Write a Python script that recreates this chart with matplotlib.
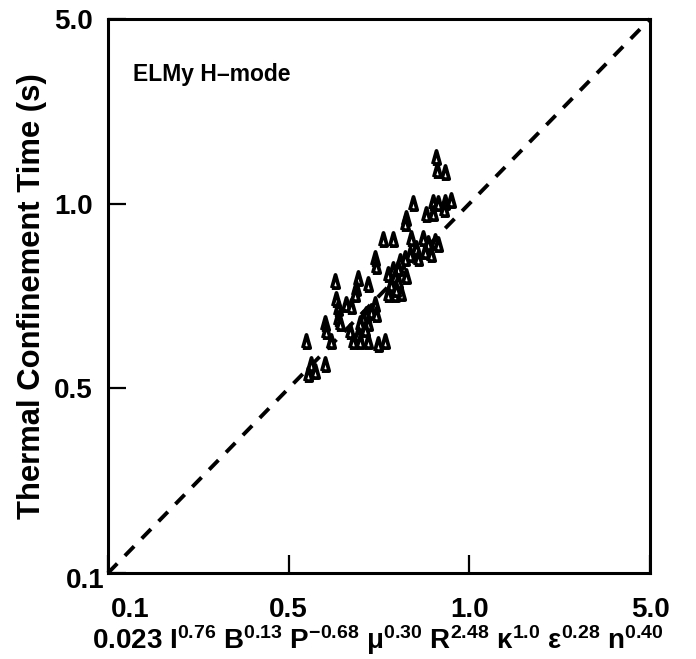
import numpy as np
import matplotlib
matplotlib.use("Agg")
import matplotlib.pyplot as plt
from matplotlib.transforms import ScaledTranslation

# ---------------- data ----------------
tick_vals = [0.1, 0.5, 1.0, 5.0]
tick_labels = ["0.1", "0.5", "1.0", "5.0"]

predicted = [0.881, 0.912, 0.884, 0.871, 0.887, 0.912, 0.933, 0.908, 0.871, 0.847,
             0.806, 0.785, 0.782, 0.718, 0.746, 0.800, 0.838, 0.854, 0.877, 0.887,
             0.816, 0.844, 0.864, 0.822, 0.797, 0.782, 0.767, 0.696, 0.699, 0.746,
             0.761, 0.732, 0.752, 0.785, 0.761, 0.741, 0.732, 0.752, 0.770, 0.755,
             0.597, 0.652, 0.678, 0.647, 0.645, 0.599, 0.604, 0.623, 0.635, 0.604,
             0.609, 0.696, 0.686, 0.673, 0.665, 0.657, 0.678, 0.699, 0.670, 0.652,
             0.632, 0.640, 0.657, 0.678, 0.704, 0.724, 0.574, 0.577, 0.588, 0.534,
             0.544, 0.553, 0.574, 0.538]
measured = [1.505, 1.321, 1.344, 1.017, 1.009, 1.017, 1.035, 0.981, 0.966, 0.963,
            1.009, 0.949, 0.931, 0.876, 0.876, 0.880, 0.880, 0.863, 0.870, 0.860,
            0.847, 0.838, 0.828, 0.816, 0.828, 0.816, 0.807, 0.816, 0.792, 0.783,
            0.786, 0.768, 0.763, 0.763, 0.748, 0.740, 0.712, 0.712, 0.715, 0.726,
            0.748, 0.757, 0.740, 0.729, 0.712, 0.699, 0.676, 0.686, 0.681, 0.651,
            0.639, 0.686, 0.668, 0.661, 0.651, 0.639, 0.639, 0.661, 0.625, 0.613,
            0.620, 0.597, 0.597, 0.597, 0.590, 0.597, 0.639, 0.620, 0.597, 0.597,
            0.547, 0.533, 0.547, 0.527]
unity_line = [0.1, 5.0]

title_text = "ELMy H\u2013mode"
ylabel_text = "Thermal Confinement Time (s)"
xlabel_text = (r"0.023 I$^{0.76}$ B$^{0.13}$ P$^{-0.68}$ $\mu^{0.30}$ "
               r"R$^{2.48}$ $\kappa^{1.0}$ $\varepsilon^{0.28}$ n$^{0.40}$")

# ---------------- style ----------------
plt.rcParams["font.family"] = ["Liberation Sans", "DejaVu Sans"]
plt.rcParams["font.weight"] = "bold"
plt.rcParams["mathtext.fontset"] = "custom"
plt.rcParams["mathtext.rm"] = "Liberation Sans:bold"
plt.rcParams["mathtext.it"] = "Liberation Sans:bold"
plt.rcParams["mathtext.bf"] = "Liberation Sans:bold"
plt.rcParams["mathtext.sf"] = "Liberation Sans:bold"
plt.rcParams["mathtext.default"] = "rm"

# piecewise-log scale: the four labelled values are evenly spaced
_logt = np.log10(tick_vals)
_pos = np.arange(len(tick_vals), dtype=float)


def fwd(v):
    v = np.clip(np.asarray(v, dtype=float), 1e-9, None)
    return np.interp(np.log10(v), _logt, _pos)


def inv(p):
    return 10 ** np.interp(np.asarray(p, dtype=float), _pos, _logt)


# tall narrow open triangle, as in the scanned figure
tall_triangle = [(-0.28, -0.5), (0.28, -0.5), (0.0, 0.5), (-0.28, -0.5)]

fig = plt.figure(figsize=(6.96, 6.59), dpi=100)
ax = fig.add_axes([108 / 696, 1 - 573 / 659, 542 / 696, 554 / 659])
ax.set_xscale("function", functions=(fwd, inv))
ax.set_yscale("function", functions=(fwd, inv))
ax.set_xlim(0.1, 5.0)
ax.set_ylim(0.1, 5.0)

ax.plot(unity_line, unity_line, color="black", lw=2.8,
        linestyle=(0, (3.4, 2.8)), clip_on=False, zorder=2)
ax.plot(predicted, measured, linestyle="none", marker=tall_triangle,
        markersize=9.5, markerfacecolor="white", markeredgecolor="black",
        markeredgewidth=2.7, zorder=3)

ax.set_xticks(tick_vals)
ax.set_xticklabels(tick_labels)
ax.set_yticks(tick_vals)
ax.set_yticklabels(tick_labels)
ax.minorticks_off()
ax.tick_params(axis="both", direction="in", length=13, width=1.6,
               labelsize=20)
ax.tick_params(axis="x", pad=17)
ax.tick_params(axis="y", pad=11)
for s in ax.spines.values():
    s.set_linewidth(2.2)

# shift the corner labels like in the original
xl = ax.get_xticklabels()
xl[0].set_transform(xl[0].get_transform() + ScaledTranslation(0.22, 0, fig.dpi_scale_trans))
yl = ax.get_yticklabels()
yl[0].set_transform(yl[0].get_transform() + ScaledTranslation(0.12, -0.05, fig.dpi_scale_trans))

ax.text(0.046, 0.900, title_text, transform=ax.transAxes, fontsize=16.5,
        fontweight="bold", ha="left", va="center")
ax.set_ylabel(ylabel_text, fontsize=22.3, fontweight="bold")
ax.yaxis.set_label_coords(-0.113, 0.50)
ax.set_xlabel(xlabel_text, fontsize=20, fontweight="bold")
ax.xaxis.set_label_coords(0.497, -0.090)

fig.savefig("out.png", dpi=100)
